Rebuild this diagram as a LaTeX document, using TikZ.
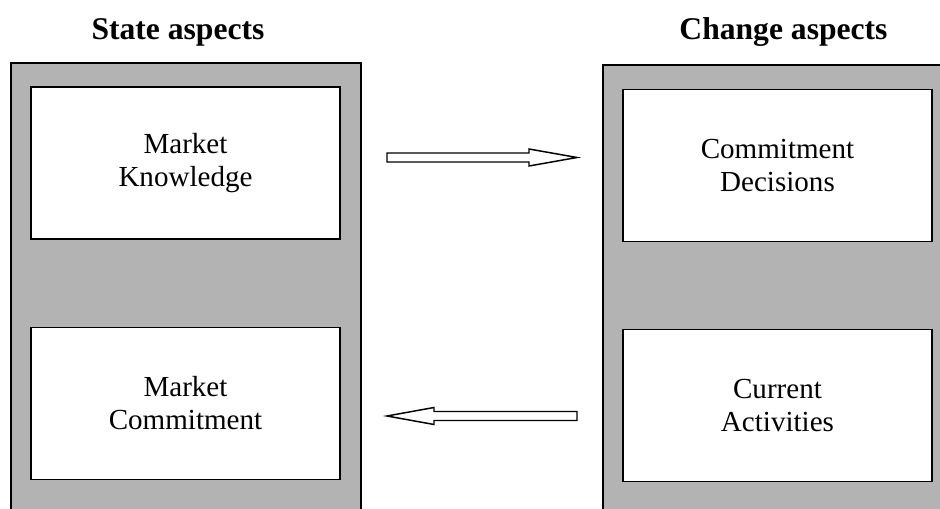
\documentclass[tikz,border=0pt]{standalone}
\usepackage{fontspec}
\setmainfont{Liberation Serif}
\usetikzlibrary{calc}
\definecolor{panelgray}{HTML}{B3B3B3}
\begin{document}
\begin{tikzpicture}[x=0.75pt,y=-0.75pt,line width=1.1pt,
  title/.style={font=\fontsize{23.7pt}{28pt}\selectfont\bfseries, anchor=base, inner sep=0},
  whitebox/.style={draw=black, fill=white, align=center, inner sep=0,
    font=\fontsize{21.8pt}{24.75pt}\selectfont, text width=225pt,
    minimum width=231.75pt, minimum height=114pt},
  blockarrow/.style={draw=black, fill=white, line width=1.1pt, line join=miter}]
\useasboundingbox (0,0) rectangle (940,509);
% panels
\fill[panelgray] (11,509) rectangle (361,63);
\draw (11,509) -- (11,63) -- (361,63) -- (361,509);
\fill[panelgray] (603,509) rectangle (940,65);
\draw (603,509) -- (603,65) -- (940,65);
% titles
\node[title] (t1) at (178,40) {State aspects};
\node[title] (t2) at (783.5,40) {Change aspects};
% boxes
\node[whitebox] (mk) at (185.5,163) {Market\\Knowledge};
\node[whitebox] (mc) at (185.5,403.5) {Market\\Commitment};
\node[whitebox] (cd) at (777.5,165.5) {Commitment\\Decisions};
\node[whitebox] (ca) at (777.5,405.5) {Current\\Activities};
% arrows
\coordinate (a1s) at (387,157.5);
\coordinate (a1e) at (577,157.5);
\draw[blockarrow] ($(a1s)+(0,-4.5)$) -- ($(a1e)+(-48,-4.5)$) -- ($(a1e)+(-48,-8.5)$) -- (a1e)
  -- ($(a1e)+(-48,8.5)$) -- ($(a1e)+(-48,4.5)$) -- ($(a1s)+(0,4.5)$) -- cycle;
\coordinate (a2s) at (577,416);
\coordinate (a2e) at (387,416);
\draw[blockarrow] ($(a2s)+(0,-4.5)$) -- ($(a2e)+(47,-4.5)$) -- ($(a2e)+(47,-8.5)$) -- (a2e)
  -- ($(a2e)+(47,8.5)$) -- ($(a2e)+(47,4.5)$) -- ($(a2s)+(0,4.5)$) -- cycle;
\end{tikzpicture}
\end{document}
